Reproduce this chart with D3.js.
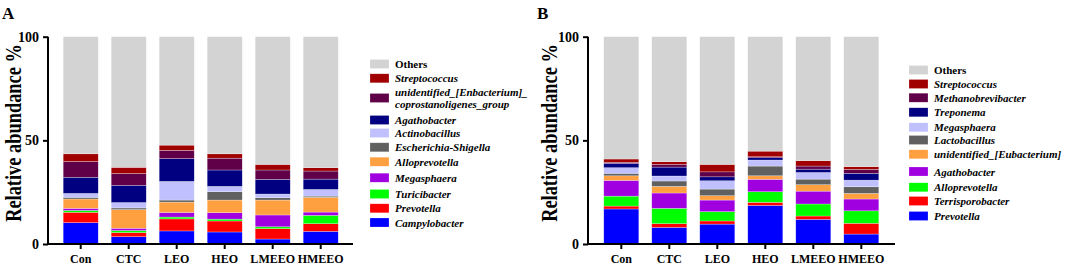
<!DOCTYPE html>
<html><head><meta charset="utf-8">
<script src="https://cdn.jsdelivr.net/npm/d3@7"></script>
<style>
html,body{margin:0;padding:0;background:#fff;}
svg{display:block;}
text{font-family:"Liberation Serif","Times New Roman",serif;}
</style></head>
<body><svg id="c" width="1084" height="266"></svg>
<script>
// ---------- DATA ----------
const categories = ["Con","CTC","LEO","HEO","LMEEO","HMEEO"];
const yTicks = [0, 50, 100];

// Panel A (stack order bottom -> top)
const aNames = ["Campylobacter","Prevotella","Turicibacter","Megasphaera","Alloprevotella","Escherichia-Shigella","Actinobacillus","Agathobacter","unidentified_[Enbacterium]_coprostanoligenes_group","Streptococcus","Others"];
const aCampylobacter  = [10.3, 3.5, 6.3, 5.8, 2.4, 6.1];
const aPrevotella     = [5.0, 2.0, 5.8, 5.3, 5.0, 3.7];
const aTuricibacter   = [0.9, 1.0, 0.9, 0.9, 0.9, 4.0];
const aMegasphaera    = [1.0, 1.1, 2.2, 3.1, 5.7, 1.6];
const aAlloprevotella = [4.5, 9.0, 5.0, 6.1, 7.2, 7.1];
const aEscherichia    = [0.8, 0.8, 1.0, 4.0, 1.1, 0.6];
const aActinobacillus = [1.9, 2.6, 9.0, 2.6, 1.8, 3.2];
const aAgathobacter   = [7.8, 8.3, 11.0, 7.9, 7.1, 5.0];
const aCoprostanoligenes = [7.6, 5.7, 4.0, 5.7, 4.5, 3.9];
const aStreptococcus  = [3.7, 3.0, 2.5, 2.1, 2.7, 1.6];
const aOthers         = [56.5, 63.0, 52.3, 56.5, 61.6, 63.2];
const aColors = ["#0000ff","#ff0000","#00ff00","#a000e0","#ffa040","#606060","#c0c0ff","#000080","#600048","#a00000","#d3d3d3"];

// Panel B (stack order bottom -> top)
const bNames = ["Prevotella","Terrisporobacter","Alloprevotella","Agathobacter","unidentified_[Eubacterium]","Lactobacillus","Megasphaera","Treponema","Methanobrevibacter","Streptococcus","Others"];
const bPrevotella       = [16.9, 8.0, 9.6, 18.6, 11.9, 4.8];
const bTerrisporobacter = [1.4, 1.8, 1.5, 1.5, 1.6, 5.2];
const bAlloprevotella   = [4.8, 7.4, 4.5, 5.1, 5.8, 6.0];
const bAgathobacter     = [7.6, 7.4, 5.6, 6.0, 6.2, 5.7];
const bEubacterium      = [2.2, 3.2, 2.1, 1.7, 3.1, 2.7];
const bLactobacillus    = [1.2, 2.6, 3.2, 4.7, 2.7, 3.2];
const bMegasphaera      = [2.7, 2.4, 4.0, 2.9, 3.2, 3.2];
const bTreponema        = [2.1, 4.3, 1.9, 1.1, 1.6, 3.3];
const bMethanobrevibacter = [0.5, 1.3, 2.4, 0.5, 1.5, 1.9];
const bStreptococcus    = [1.6, 1.3, 3.6, 2.7, 2.6, 1.3];
const bOthers           = [59.0, 60.3, 61.6, 55.2, 59.8, 62.7];
const bColors = ["#0000ff","#ff0000","#00ff00","#a000e0","#ffa040","#606060","#c0c0ff","#000080","#600048","#a00000","#d3d3d3"];

const aSeries = [aCampylobacter,aPrevotella,aTuricibacter,aMegasphaera,aAlloprevotella,aEscherichia,aActinobacillus,aAgathobacter,aCoprostanoligenes,aStreptococcus,aOthers];
const bSeries = [bPrevotella,bTerrisporobacter,bAlloprevotella,bAgathobacter,bEubacterium,bLactobacillus,bMegasphaera,bTreponema,bMethanobrevibacter,bStreptococcus,bOthers];

// ---------- DRAW ----------
const svg = d3.select("#c");

function panel(opt){
  const {names, series, colors, axisX, xRange, axisEnd, letter, letterX, labelX, legend} = opt;
  const g = svg.append("g");
  const y = d3.scaleLinear().domain([0,100]).range([244, 36.7]);
  const x = d3.scaleBand().domain(categories).range(xRange).paddingInner(0.27).paddingOuter(0.135);

  const rows = categories.map((c,i)=>{
    const r = {cat:c};
    names.forEach((n,k)=> r[n] = series[k][i]);
    return r;
  });
  const stacked = d3.stack().keys(names)(rows);
  g.selectAll("g.layer").data(stacked).join("g")
    .attr("fill",(d,i)=>colors[i])
    .selectAll("rect").data(d=>d).join("rect")
    .attr("x",d=>x(d.data.cat))
    .attr("width",x.bandwidth())
    .attr("y",d=>y(d[1]))
    .attr("height",d=>Math.max(0,y(d[0])-y(d[1])))
    .attr("stroke","#ffffff").attr("stroke-opacity",0.55).attr("stroke-width",0.5);

  // y axis
  const ya = g.append("g").attr("transform",`translate(${axisX},0)`)
    .call(d3.axisLeft(y).tickValues(yTicks).tickSize(5).tickPadding(4));
  ya.select(".domain").attr("d",`M0,${y(100)}V${y(0)}`).attr("stroke","#000").attr("stroke-width",2);
  ya.selectAll(".tick line").attr("stroke","#000").attr("stroke-width",2);
  ya.selectAll(".tick text").attr("font-family","Liberation Serif").attr("font-weight","bold").attr("font-size",14).attr("fill","#000");

  // x axis
  const xa = g.append("g").attr("transform",`translate(0,${y(0)})`)
    .call(d3.axisBottom(x).tickSize(5).tickPadding(5));
  xa.select(".domain").attr("d",`M${axisX},0H${axisEnd}`).attr("stroke","#000").attr("stroke-width",2);
  xa.selectAll(".tick line").attr("stroke","#000").attr("stroke-width",2);
  xa.selectAll(".tick text").attr("font-family","Liberation Serif").attr("font-weight","bold").attr("font-size",12).attr("fill","#000");

  // y label (glyphs taller than the squeezed text length, as in the reference)
  g.append("text").attr("transform",`translate(${labelX},133) rotate(-90) scale(0.8,1)`)
    .attr("text-anchor","middle").attr("font-weight","bold").attr("font-size",23)
    .text("Relative abundance %");

  // panel letter
  g.append("text").attr("x",letterX).attr("y",19).attr("font-family","Liberation Sans, Arial, sans-serif")
    .attr("font-weight","bold").attr("font-size",17).text(letter);

  // legend (top -> bottom = reverse stack order)
  const lg = g.append("g");
  legend.items.forEach((it,j)=>{
    const k = names.length-1-j;
    const cy = legend.ys[j];
    lg.append("rect").attr("x",legend.x).attr("y",cy-4.5).attr("width",19).attr("height",9)
      .attr("fill",colors[k]).attr("stroke","#ffffff").attr("stroke-opacity",0.4).attr("stroke-width",0.5);
    const lines = it;
    lines.forEach((ln,li)=>{
      lg.append("text").attr("x",legend.x+25)
        .attr("y", cy + 4 + (li - (lines.length-1)/2)*11.5)
        .attr("font-weight","bold")
        .attr("font-style", k===names.length-1 ? "normal" : "italic")
        .attr("font-size",11).text(ln);
    });
  });
}

panel({
  names:aNames, series:aSeries, colors:aColors, axisX:48, xRange:[56.7,344.7], axisEnd:353,
  letter:"A", letterX:2, labelX:20.5,
  legend:{x:370,
    items:[["Others"],["Streptococcus"],["unidentified_[Enbacterium]_","coprostanoligenes_group"],["Agathobacter"],["Actinobacillus"],["Escherichia-Shigella"],["Alloprevotella"],["Megasphaera"],["Turicibacter"],["Prevotella"],["Campylobacter"]],
    ys:[64,78.3,98,120,133,147.3,161.7,177.7,194,208.3,222.5]}
});
panel({
  names:bNames, series:bSeries, colors:bColors, axisX:588, xRange:[597.3,885.3], axisEnd:895,
  letter:"B", letterX:537, labelX:557,
  legend:{x:909,
    items:[["Others"],["Streptococcus"],["Methanobrevibacter"],["Treponema"],["Megasphaera"],["Lactobacillus"],["unidentified_[Eubacterium]"],["Agathobacter"],["Alloprevotella"],["Terrisporobacter"],["Prevotella"]],
    ys:[70,84,97.7,112.3,127.3,140,154.3,171.5,187.3,201,216]}
});
</script></body></html>
